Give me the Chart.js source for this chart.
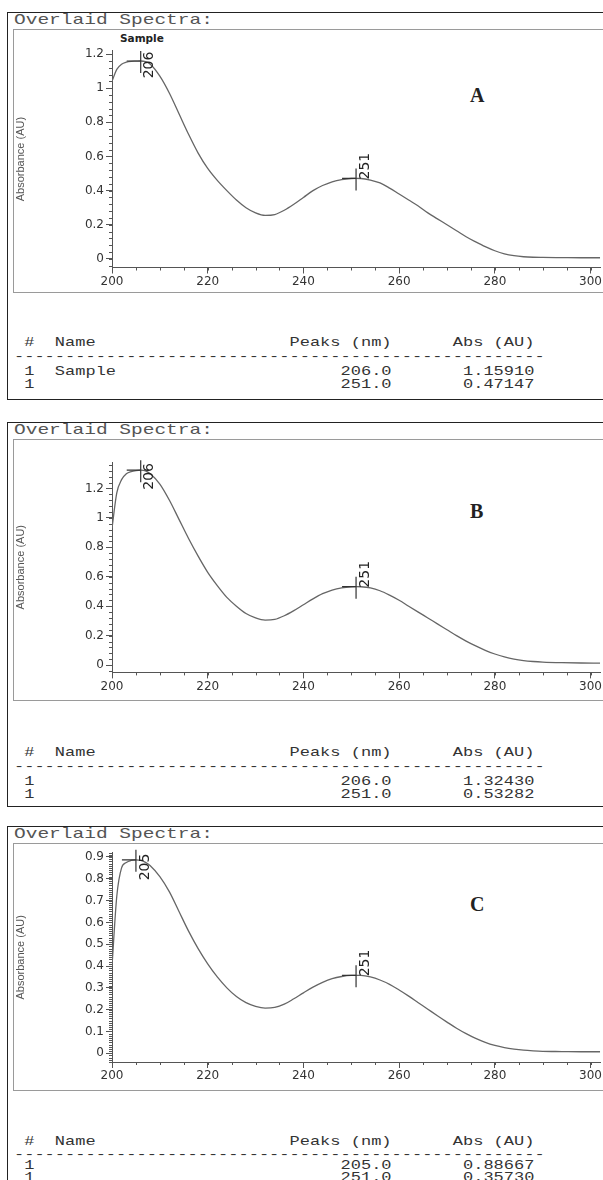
<!DOCTYPE html>
<html>
<head>
<meta charset="utf-8">
<script src="https://cdn.jsdelivr.net/npm/chart.js@4.4.0/dist/chart.umd.min.js"></script>
<style>
  body { margin: 0; background: #fff; }
  #page { position: relative; width: 603px; height: 1180px; overflow: hidden; background: #fff; }
  .outer { position: absolute; left: 7px; width: 620px; border: 1.5px solid #222; }
  .inner { position: absolute; left: 13px; width: 620px; border: 1px solid #9a9a9a; }
  .title { position: absolute; left: 14px; font: 15px "Liberation Mono", monospace; color: #555; line-height: 16px; white-space: pre; transform: scaleX(1.3); transform-origin: 0 0; }
  .row { position: absolute; left: 14px; font: 13px "Liberation Mono", monospace; color: #333; white-space: pre; line-height: 14px; transform: scaleX(1.308); transform-origin: 0 0; }
  .letter { position: absolute; font: bold 20px "Liberation Serif", serif; color: #222; line-height: 24px; }
  .sample { position: absolute; font: bold 10.5px "DejaVu Sans", sans-serif; color: #222; }
  canvas { position: absolute; left: 13px; }
</style>
</head>
<body>
<div id="page">
  <div class="outer" style="top:12px;height:386px"></div>
  <div class="title" style="top:13px">Overlaid Spectra:</div>
  <div class="inner" style="top:29px;height:262px"></div>
  <div class="sample" style="left:120px;top:32px">Sample</div>
  <div class="letter" style="left:470px;top:83px">A</div>
  <canvas id="chartA" width="590" height="263" style="top:29px"></canvas>
  <div id="tableA"></div>

  <div class="outer" style="top:422px;height:383px"></div>
  <div class="title" style="top:423px">Overlaid Spectra:</div>
  <div class="inner" style="top:439px;height:260px"></div>
  <div class="letter" style="left:470px;top:499px">B</div>
  <canvas id="chartB" width="590" height="261" style="top:439px"></canvas>
  <div id="tableB"></div>

  <div class="outer" style="top:826px;height:400px"></div>
  <div class="title" style="top:827px">Overlaid Spectra:</div>
  <div class="inner" style="top:843px;height:246px"></div>
  <div class="letter" style="left:470px;top:892px">C</div>
  <canvas id="chartC" width="590" height="247" style="top:843px"></canvas>
  <div id="tableC"></div>
</div>
<script>
// wavelengths (nm)
const wl = [200, 201, 202, 203, 204, 205, 206, 207, 208, 210, 212, 214, 216, 218, 220, 222, 224, 226, 228, 230,
            232, 234, 236, 238, 240, 242, 244, 246, 248, 250, 251, 252, 254, 256, 258, 260, 262, 264, 266, 268,
            270, 272, 274, 276, 278, 280, 282, 284, 286, 288, 290, 294, 298, 302];
// absorbance (AU)
const absA = [1.04, 1.11, 1.14, 1.152, 1.157, 1.158, 1.159, 1.155, 1.14, 1.07, 0.97, 0.85, 0.73, 0.62, 0.53, 0.46, 0.40, 0.345, 0.30, 0.27,
              0.255, 0.26, 0.285, 0.32, 0.36, 0.40, 0.43, 0.452, 0.465, 0.471, 0.4715, 0.471, 0.462, 0.445, 0.415, 0.38, 0.345, 0.31, 0.27, 0.235,
              0.20, 0.165, 0.13, 0.10, 0.072, 0.048, 0.03, 0.019, 0.013, 0.01, 0.009, 0.008, 0.007, 0.007];
const absB = [0.93, 1.17, 1.26, 1.30, 1.315, 1.322, 1.3243, 1.32, 1.30, 1.23, 1.12, 0.99, 0.86, 0.74, 0.63, 0.54, 0.46, 0.40, 0.35, 0.32,
              0.305, 0.31, 0.335, 0.37, 0.41, 0.45, 0.485, 0.51, 0.525, 0.532, 0.5328, 0.532, 0.524, 0.505, 0.475, 0.44, 0.40, 0.36, 0.32, 0.28,
              0.24, 0.20, 0.163, 0.13, 0.10, 0.075, 0.055, 0.04, 0.03, 0.024, 0.02, 0.016, 0.014, 0.013];
const absC = [0.40, 0.72, 0.85, 0.875, 0.884, 0.8867, 0.884, 0.875, 0.86, 0.81, 0.74, 0.65, 0.56, 0.48, 0.41, 0.35, 0.30, 0.26, 0.232, 0.215,
              0.207, 0.21, 0.225, 0.25, 0.277, 0.303, 0.325, 0.342, 0.352, 0.357, 0.3573, 0.357, 0.35, 0.336, 0.316, 0.29, 0.262, 0.232, 0.202, 0.172,
              0.143, 0.115, 0.09, 0.068, 0.05, 0.036, 0.026, 0.019, 0.014, 0.011, 0.009, 0.008, 0.007, 0.007];

// peak table
const peakNmA = [206.0, 251.0], peakAbsA = [1.15910, 0.47147], peakNameA = ['Sample', ''];
const peakNmB = [206.0, 251.0], peakAbsB = [1.32430, 0.53282], peakNameB = ['', ''];
const peakNmC = [205.0, 251.0], peakAbsC = [0.88667, 0.35730], peakNameC = ['', ''];

const minorTicks = {
  id: 'minorTicks',
  afterDraw(chart, args, opts) {
    const ctx = chart.ctx, x = chart.scales.x, y = chart.scales.y;
    ctx.save();
    ctx.strokeStyle = '#555';
    ctx.lineWidth = 1;
    ctx.beginPath();
    for (let i = Math.ceil(x.min / opts.xStep); i * opts.xStep <= x.max; i++) {
      const px = Math.round(x.getPixelForValue(i * opts.xStep)) + 0.5;
      ctx.moveTo(px, y.bottom);
      ctx.lineTo(px, y.bottom + 3);
    }
    for (let i = Math.ceil(y.min / opts.yStep); i * opts.yStep <= y.max + 1e-9; i++) {
      const py = Math.round(y.getPixelForValue(i * opts.yStep)) + 0.5;
      ctx.moveTo(x.left, py);
      ctx.lineTo(x.left - 3, py);
    }
    ctx.stroke();
    ctx.restore();
  }
};

const peakMarks = {
  id: 'peakMarks',
  afterDatasetsDraw(chart, args, opts) {
    const { ctx, chartArea } = chart;
    const x = chart.scales.x, y = chart.scales.y;
    ctx.save();
    ctx.strokeStyle = '#333';
    ctx.lineWidth = 1.2;
    ctx.fillStyle = '#222';
    ctx.font = '14px "DejaVu Sans"';
    opts.nm.forEach((nm, i) => {
      const px = x.getPixelForValue(nm), py = y.getPixelForValue(opts.abs[i]);
      ctx.beginPath();
      ctx.moveTo(px - 14, py); ctx.lineTo(px, py);
      ctx.moveTo(px, py - 10); ctx.lineTo(px, py + 12);
      ctx.stroke();
      const txt = String(Math.round(nm));
      const w = ctx.measureText(txt).width;
      const by = Math.max(py + 1, chartArea.top + w + 1);
      ctx.save();
      ctx.translate(px + 2, by);
      ctx.rotate(-Math.PI / 2);
      ctx.textAlign = 'left';
      ctx.textBaseline = 'top';
      ctx.fillText(txt, 0, 0);
      ctx.restore();
    });
    ctx.restore();
  }
};

function makeChart(id, vals, nm, abs, yMin, yMax, yStep, yMinor, canvasTop, canvasH, plotTop, plotBottom) {
  const tickFont = { family: 'DejaVu Sans', size: 12 };
  return new Chart(document.getElementById(id), {
    type: 'line',
    data: {
      datasets: [{
        data: wl.map((w, i) => ({ x: w, y: vals[i] })),
        borderColor: '#666',
        borderWidth: 1.3,
        pointRadius: 0,
        cubicInterpolationMode: 'monotone',
        fill: false
      }]
    },
    options: {
      responsive: false,
      animation: false,
      events: [],
      layout: { padding: { top: plotTop - canvasTop, left: 0, right: 0, bottom: 0 } },
      plugins: {
        legend: { display: false },
        tooltip: { enabled: false },
        minorTicks: { xStep: 5, yStep: yMinor },
        peakMarks: { nm: nm, abs: abs }
      },
      scales: {
        x: {
          type: 'linear', min: 200, max: 302,
          ticks: { stepSize: 20, includeBounds: false, padding: 1, color: '#333', font: tickFont, maxRotation: 0 },
          grid: { drawOnChartArea: false, tickLength: 6, color: '#555' },
          border: { color: '#555', width: 1 },
          afterFit(s) { s.height = canvasTop + canvasH - plotBottom; }
        },
        y: {
          type: 'linear', min: yMin, max: yMax,
          ticks: { stepSize: yStep, includeBounds: false, padding: 2, color: '#333', font: tickFont,
                   callback: v => String(+v.toFixed(2)) },
          grid: { drawOnChartArea: false, tickLength: 6, color: '#555' },
          border: { color: '#555', width: 1 },
          title: { display: true, text: 'Absorbance (AU)', color: '#555', font: { family: 'Liberation Sans', size: 11 }, padding: { top: 1, bottom: 0 } },
          afterFit(s) { s.width = 99; }
        }
      }
    },
    plugins: [minorTicks, peakMarks]
  });
}

function makeTable(id, nm, abs, names, tops) {
  const lines = [
    ' #  Name'.padEnd(27) + 'Peaks (nm)' + '      ' + 'Abs (AU)',
    '-'.repeat(52)
  ];
  nm.forEach((v, i) => {
    lines.push((' 1  ' + names[i]).padEnd(32) + v.toFixed(1).padStart(5) + ' '.repeat(7) + abs[i].toFixed(5));
  });
  document.getElementById(id).innerHTML = lines.map((l, i) =>
    `<div class="row" style="top:${tops[i] - 7}px">${l}</div>`).join('');
}

makeChart('chartA', absA, peakNmA, peakAbsA, -0.05, 1.22, 0.2, 0.04, 29, 263, 50.6, 267.5);
makeChart('chartB', absB, peakNmB, peakAbsB, -0.05, 1.38, 0.2, 0.04, 439, 261, 462, 672.4);
makeChart('chartC', absC, peakNmC, peakAbsC, -0.04, 0.92, 0.1, 0.01, 843, 247, 852.6, 1062);

makeTable('tableA', peakNmA, peakAbsA, peakNameA, [343, 357, 372, 385]);
makeTable('tableB', peakNmB, peakAbsB, peakNameB, [753, 767, 782, 795]);
makeTable('tableC', peakNmC, peakAbsC, peakNameC, [1142, 1155, 1166, 1178]);
</script>
</body>
</html>
